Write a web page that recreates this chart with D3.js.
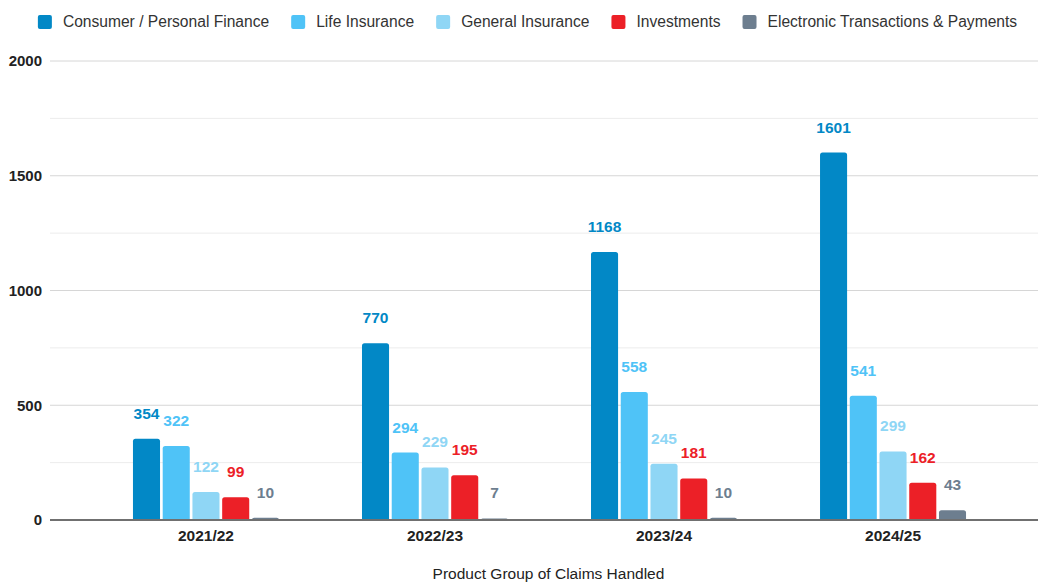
<!DOCTYPE html>
<html><head><meta charset="utf-8">
<script src="https://cdn.jsdelivr.net/npm/d3@7"></script>
<style>body{margin:0;background:#fff;font-family:"Liberation Sans",Arial,sans-serif;}</style>
</head><body>
<svg id="c" width="1038" height="582"></svg>
<script>
const years = ["2021/22","2022/23","2023/24","2024/25"];
const seriesNames = ["Consumer / Personal Finance","Life Insurance","General Insurance","Investments","Electronic Transactions & Payments"];
const consumer = [354,770,1168,1601];
const life = [322,294,558,541];
const general = [122,229,245,299];
const investments = [99,195,181,162];
const electronic = [10,7,10,43];
const yTicks = [0,500,1000,1500,2000];
const colors = ["#0288c6","#4fc3f7","#8fd6f5","#ec2027","#6d7e8f"];
const xTitle = "Product Group of Claims Handled";

const values = [consumer, life, general, investments, electronic];
const svg = d3.select("#c");
const L = 50, R = 1038, T = 61, B = 520;
const y = d3.scaleLinear().domain([0,2000]).range([B,T]);
const x0 = d3.scaleBand().domain(years).range([L+5.5,R+5.5]).paddingInner(0).paddingOuter(0.157);
const groupW = 146;
const x1 = d3.scaleBand().domain(seriesNames).range([0,groupW]).paddingInner(0.09);

// grid
const minor = d3.range(250,2000,500);
svg.append("g").selectAll("line").data(minor).join("line")
  .attr("x1",L).attr("x2",R).attr("y1",d=>y(d)).attr("y2",d=>y(d))
  .attr("stroke","#ececec").attr("stroke-width",1);
svg.append("g").selectAll("line").data(yTicks.filter(d=>d>0)).join("line")
  .attr("x1",L).attr("x2",R).attr("y1",d=>y(d)).attr("y2",d=>y(d))
  .attr("stroke","#d6d6d6").attr("stroke-width",1);
// y labels
svg.append("g").selectAll("text").data(yTicks).join("text")
  .attr("x",42).attr("y",d=>y(d)).attr("dy","0.35em").attr("text-anchor","end")
  .attr("font-size",15).attr("font-weight","bold").attr("fill","#222").text(d=>d);

// bars
function barPath(xp,w,yt,yb,r){
  const h=yb-yt; r=Math.min(r,h,w/2);
  return `M${xp},${yb}V${yt+r}Q${xp},${yt} ${xp+r},${yt}H${xp+w-r}Q${xp+w},${yt} ${xp+w},${yt+r}V${yb}Z`;
}
years.forEach((yr,i)=>{
  const gx = x0(yr)+x0.bandwidth()/2-groupW/2;
  seriesNames.forEach((s,j)=>{
    const v = values[j][i];
    const bx = gx + x1(s), bw = x1.bandwidth();
    svg.append("path").attr("d",barPath(bx,bw,y(v),B,2.5)).attr("fill",colors[j]);
    svg.append("text").attr("x",bx+bw/2).attr("y",y(v)-20).attr("text-anchor","middle")
      .attr("font-size",15.5).attr("font-weight","bold").attr("fill",colors[j]).text(v);
  });
});
// zero line
svg.append("line").attr("x1",L).attr("x2",R).attr("y1",B).attr("y2",B).attr("stroke","#707070").attr("stroke-width",2);
// x labels
svg.append("g").selectAll("text").data(years).join("text")
  .attr("x",d=>x0(d)+x0.bandwidth()/2).attr("y",541).attr("text-anchor","middle")
  .attr("font-size",15.5).attr("font-weight","bold").attr("fill","#222").text(d=>d);
svg.append("text").attr("x",548.5).attr("y",579).attr("text-anchor","middle")
  .attr("font-size",15.5).attr("fill","#222").text(xTitle);

// legend
const lg = svg.append("g");
let cx = 0;
seriesNames.forEach((s,j)=>{
  const g = lg.append("g");
  g.append("rect").attr("x",0).attr("y",-7).attr("width",14).attr("height",14).attr("rx",2).attr("fill",colors[j]);
  const t = g.append("text").attr("x",25).attr("y",0).attr("dy","0.35em").attr("font-size",15.6).attr("fill","#333").text(s);
  const w = 25 + t.node().getComputedTextLength();
  g.attr("transform",`translate(${cx},22)`);
  cx += w + 22;
});
const total = cx - 22;
lg.attr("transform",`translate(${(40+1015)/2 - total/2},0)`);
</script>
</body></html>
